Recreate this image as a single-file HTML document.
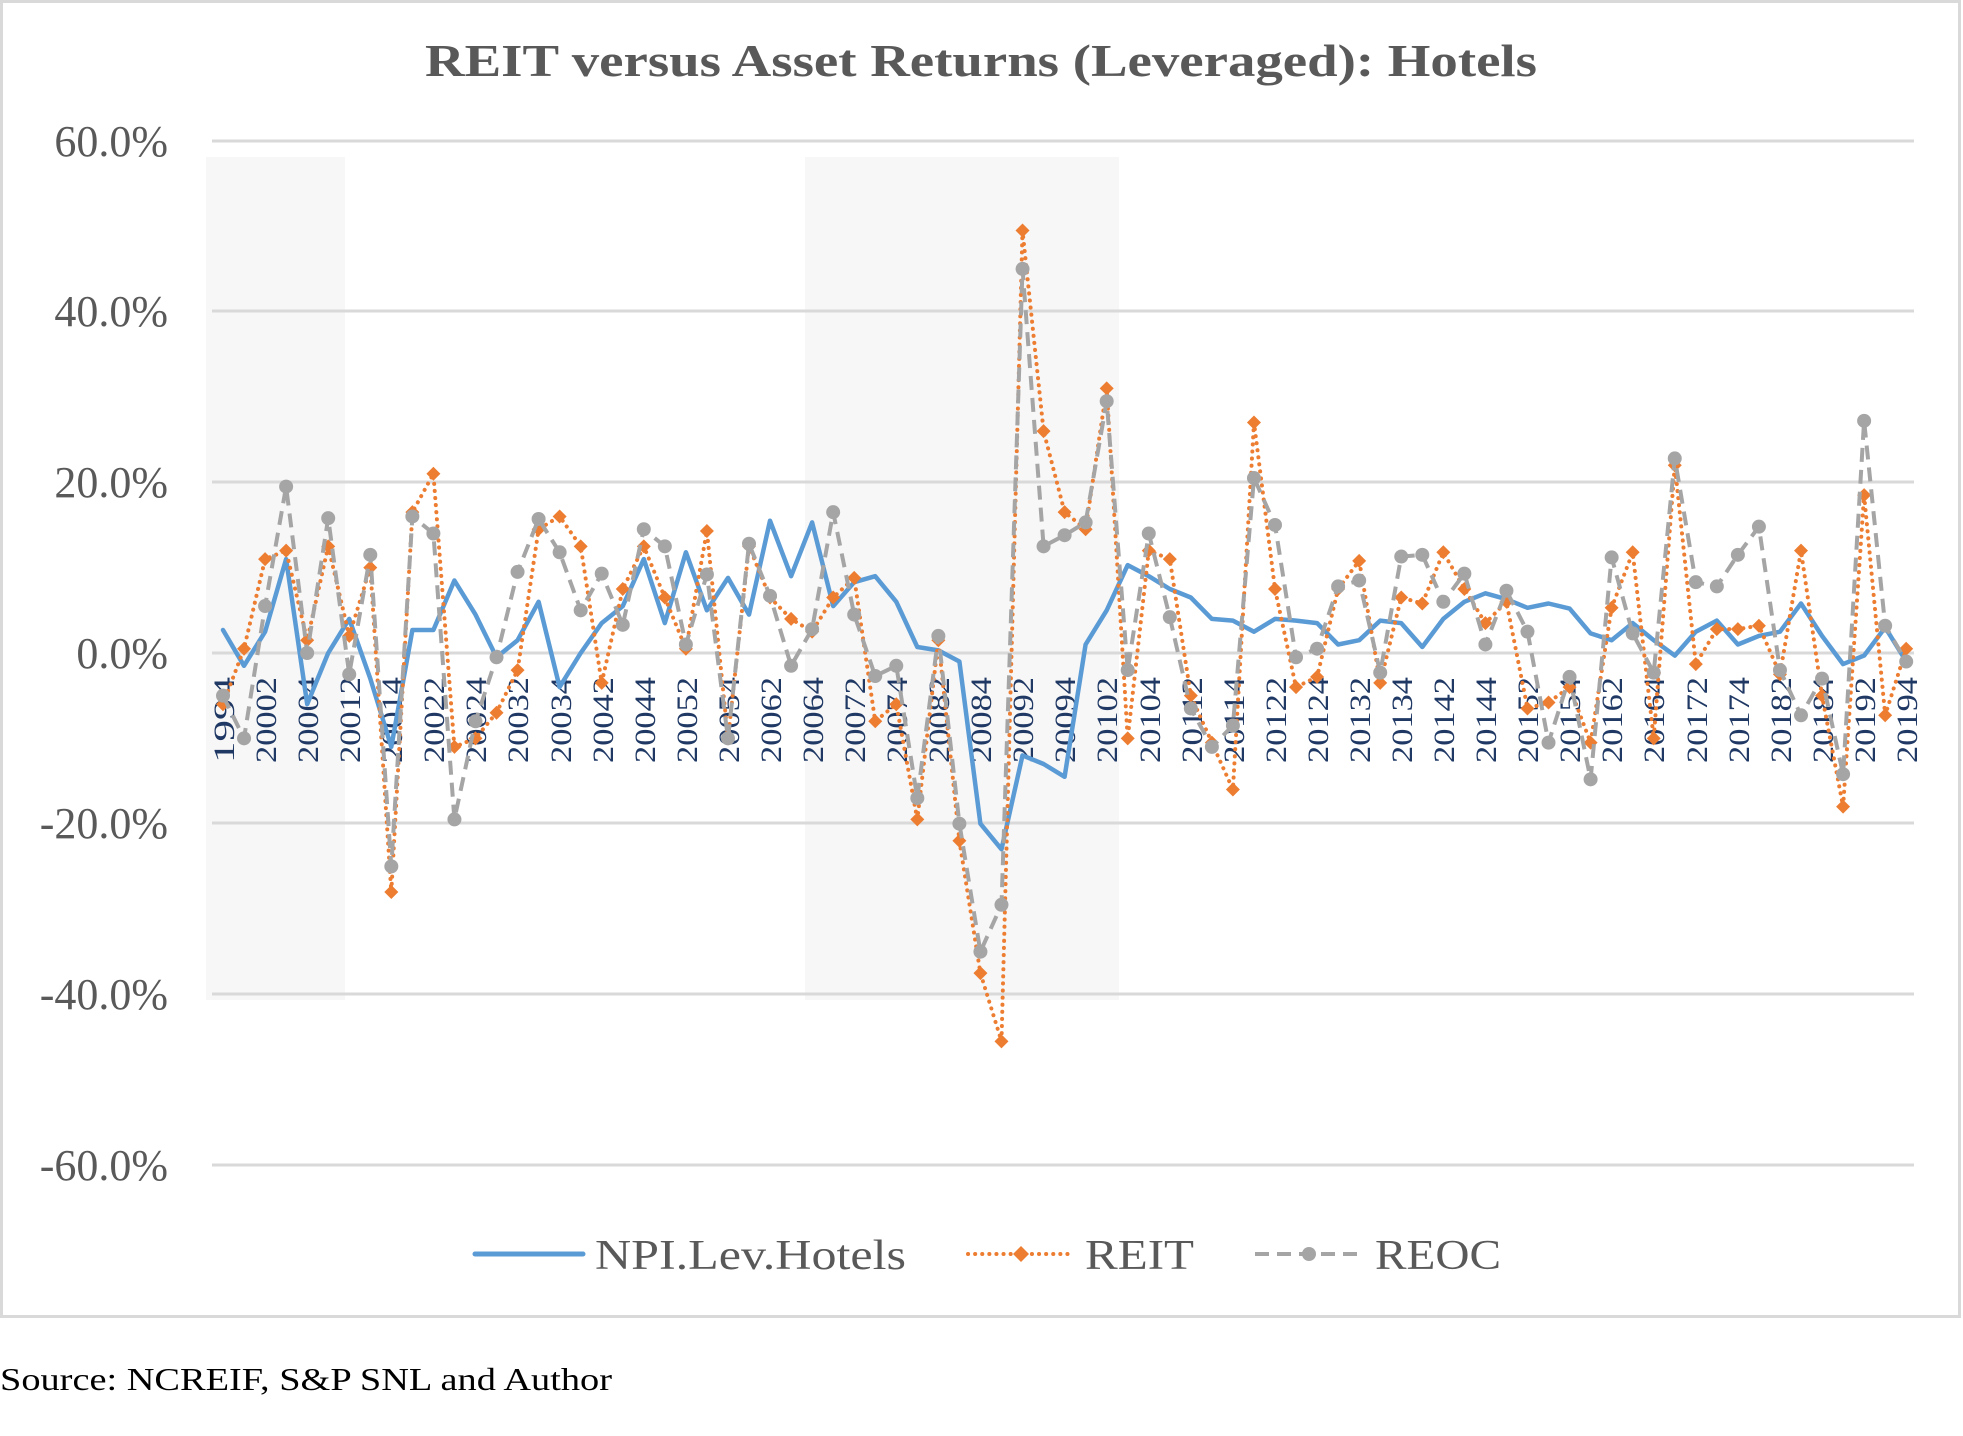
<!DOCTYPE html>
<html><head><meta charset="utf-8"><style>
html,body{margin:0;padding:0;background:#fff;}
svg{display:block;}
</style></head><body>
<svg id="c" width="1963" height="1436" viewBox="0 0 1963 1436" xmlns="http://www.w3.org/2000/svg" font-family="'Liberation Serif', serif">
<rect x="0" y="0" width="1963" height="1436" fill="#fff"/>
<rect x="1.5" y="1.5" width="1958" height="1315" fill="#fff" stroke="#d9d9d9" stroke-width="3"/>
<rect x="206" y="157" width="139" height="843" fill="#f7f7f7"/>
<rect x="805" y="157" width="314" height="843" fill="#f7f7f7"/>
<g stroke="#d9d9d9" stroke-width="3">
<line x1="212" x2="1914" y1="141" y2="141"/>
<line x1="212" x2="1914" y1="311" y2="311"/>
<line x1="212" x2="1914" y1="482" y2="482"/>
<line x1="212" x2="1914" y1="653" y2="653"/>
<line x1="212" x2="1914" y1="823" y2="823"/>
<line x1="212" x2="1914" y1="994" y2="994"/>
<line x1="212" x2="1914" y1="1165" y2="1165"/>
</g>
<text x="981" y="76" text-anchor="middle" font-size="46" font-weight="bold" fill="#595959" textLength="1112" lengthAdjust="spacingAndGlyphs">REIT versus Asset Returns (Leveraged): Hotels</text>
<g font-size="44" fill="#595959" text-anchor="end">
<text x="168" y="156">60.0%</text>
<text x="168" y="326">40.0%</text>
<text x="168" y="497">20.0%</text>
<text x="168" y="668">0.0%</text>
<text x="168" y="838">-20.0%</text>
<text x="168" y="1009">-40.0%</text>
<text x="168" y="1180">-60.0%</text>
</g>
<g id="xl" font-size="30" fill="#1f3864" text-anchor="end">
<text transform="translate(234,677) rotate(-90)" textLength="86" lengthAdjust="spacingAndGlyphs">1994</text>
<text transform="translate(276,677) rotate(-90)" textLength="86" lengthAdjust="spacingAndGlyphs">20002</text>
<text transform="translate(318,677) rotate(-90)" textLength="86" lengthAdjust="spacingAndGlyphs">20004</text>
<text transform="translate(360,677) rotate(-90)" textLength="86" lengthAdjust="spacingAndGlyphs">20012</text>
<text transform="translate(402,677) rotate(-90)" textLength="86" lengthAdjust="spacingAndGlyphs">20014</text>
<text transform="translate(444,677) rotate(-90)" textLength="86" lengthAdjust="spacingAndGlyphs">20022</text>
<text transform="translate(486,677) rotate(-90)" textLength="86" lengthAdjust="spacingAndGlyphs">20024</text>
<text transform="translate(528,677) rotate(-90)" textLength="86" lengthAdjust="spacingAndGlyphs">20032</text>
<text transform="translate(571,677) rotate(-90)" textLength="86" lengthAdjust="spacingAndGlyphs">20034</text>
<text transform="translate(613,677) rotate(-90)" textLength="86" lengthAdjust="spacingAndGlyphs">20042</text>
<text transform="translate(655,677) rotate(-90)" textLength="86" lengthAdjust="spacingAndGlyphs">20044</text>
<text transform="translate(697,677) rotate(-90)" textLength="86" lengthAdjust="spacingAndGlyphs">20052</text>
<text transform="translate(739,677) rotate(-90)" textLength="86" lengthAdjust="spacingAndGlyphs">20054</text>
<text transform="translate(781,677) rotate(-90)" textLength="86" lengthAdjust="spacingAndGlyphs">20062</text>
<text transform="translate(823,677) rotate(-90)" textLength="86" lengthAdjust="spacingAndGlyphs">20064</text>
<text transform="translate(865,677) rotate(-90)" textLength="86" lengthAdjust="spacingAndGlyphs">20072</text>
<text transform="translate(907,677) rotate(-90)" textLength="86" lengthAdjust="spacingAndGlyphs">20074</text>
<text transform="translate(949,677) rotate(-90)" textLength="86" lengthAdjust="spacingAndGlyphs">20082</text>
<text transform="translate(991,677) rotate(-90)" textLength="86" lengthAdjust="spacingAndGlyphs">20084</text>
<text transform="translate(1033,677) rotate(-90)" textLength="86" lengthAdjust="spacingAndGlyphs">20092</text>
<text transform="translate(1075,677) rotate(-90)" textLength="86" lengthAdjust="spacingAndGlyphs">20094</text>
<text transform="translate(1117,677) rotate(-90)" textLength="86" lengthAdjust="spacingAndGlyphs">20102</text>
<text transform="translate(1160,677) rotate(-90)" textLength="86" lengthAdjust="spacingAndGlyphs">20104</text>
<text transform="translate(1202,677) rotate(-90)" textLength="86" lengthAdjust="spacingAndGlyphs">20112</text>
<text transform="translate(1244,677) rotate(-90)" textLength="86" lengthAdjust="spacingAndGlyphs">20114</text>
<text transform="translate(1286,677) rotate(-90)" textLength="86" lengthAdjust="spacingAndGlyphs">20122</text>
<text transform="translate(1328,677) rotate(-90)" textLength="86" lengthAdjust="spacingAndGlyphs">20124</text>
<text transform="translate(1370,677) rotate(-90)" textLength="86" lengthAdjust="spacingAndGlyphs">20132</text>
<text transform="translate(1412,677) rotate(-90)" textLength="86" lengthAdjust="spacingAndGlyphs">20134</text>
<text transform="translate(1454,677) rotate(-90)" textLength="86" lengthAdjust="spacingAndGlyphs">20142</text>
<text transform="translate(1496,677) rotate(-90)" textLength="86" lengthAdjust="spacingAndGlyphs">20144</text>
<text transform="translate(1538,677) rotate(-90)" textLength="86" lengthAdjust="spacingAndGlyphs">20152</text>
<text transform="translate(1580,677) rotate(-90)" textLength="86" lengthAdjust="spacingAndGlyphs">20154</text>
<text transform="translate(1622,677) rotate(-90)" textLength="86" lengthAdjust="spacingAndGlyphs">20162</text>
<text transform="translate(1664,677) rotate(-90)" textLength="86" lengthAdjust="spacingAndGlyphs">20164</text>
<text transform="translate(1707,677) rotate(-90)" textLength="86" lengthAdjust="spacingAndGlyphs">20172</text>
<text transform="translate(1749,677) rotate(-90)" textLength="86" lengthAdjust="spacingAndGlyphs">20174</text>
<text transform="translate(1791,677) rotate(-90)" textLength="86" lengthAdjust="spacingAndGlyphs">20182</text>
<text transform="translate(1833,677) rotate(-90)" textLength="86" lengthAdjust="spacingAndGlyphs">20184</text>
<text transform="translate(1875,677) rotate(-90)" textLength="86" lengthAdjust="spacingAndGlyphs">20192</text>
<text transform="translate(1917,677) rotate(-90)" textLength="86" lengthAdjust="spacingAndGlyphs">20194</text>
</g>
<g id="series"></g>
<!-- legend -->
<line x1="475" x2="583" y1="1254" y2="1254" stroke="#5b9bd5" stroke-width="5" stroke-linecap="round"/>
<text x="595" y="1269" font-size="42" fill="#595959" textLength="311" lengthAdjust="spacingAndGlyphs">NPI.Lev.Hotels</text>
<line x1="968" x2="1074" y1="1254" y2="1254" stroke="#ed7d31" stroke-width="4" stroke-linecap="round" stroke-dasharray="0.1,7"/>
<polygon points="1021,1246 1029,1254 1021,1262 1013,1254" fill="#ed7d31"/>
<text x="1085" y="1269" font-size="42" fill="#595959" textLength="109" lengthAdjust="spacingAndGlyphs">REIT</text>
<line x1="1255" x2="1363" y1="1254" y2="1254" stroke="#a5a5a5" stroke-width="4" stroke-dasharray="14,8"/>
<circle cx="1309" cy="1254" r="7" fill="#a5a5a5"/>
<text x="1375" y="1269" font-size="42" fill="#595959" textLength="126" lengthAdjust="spacingAndGlyphs">REOC</text>
<text x="0" y="1390" font-size="32" fill="#000" textLength="612" lengthAdjust="spacingAndGlyphs">Source: NCREIF, S&amp;P SNL and Author</text>
</svg>
<script>
var npi=[2.7,-1.5,2.5,11,-6,0,4,-3,-11,2.7,2.7,8.5,4.5,-0.5,1.5,6,-4,0,3.5,5.5,11,3.5,11.8,5,8.8,4.5,15.5,9,15.3,5.5,8.3,9,6,0.7,0.3,-1,-20,-23,-12,-13,-14.5,1,5,10.3,9,7.5,6.5,4,3.8,2.5,4,3.8,3.5,1,1.5,3.8,3.5,0.7,4,6,7,6.3,5.3,5.8,5.2,2.3,1.5,3.5,1.5,-0.3,2.5,3.8,1,2,2.5,5.8,2,-1.3,-0.3,3,-1];
var reit=[-6,0.5,11,12,1.5,12.5,2,10,-28,16.5,21,-11,-10,-7,-2,14.5,16,12.5,-3.5,7.5,12.5,6.5,0.5,14.3,-10,12.5,6.5,4,2.5,6.5,8.8,-8,-6,-19.5,1.5,-22,-37.5,-45.5,49.5,26,16.5,14.5,31,-10,12,11,-5,-10.5,-16,27,7.5,-4,-2.8,7.5,10.8,-3.5,6.5,5.8,11.8,7.5,3.5,6,-6.5,-5.8,-4,-10.5,5.3,11.8,-10,22,-1.3,2.8,2.8,3.2,-2.5,12,-5,-18,18.5,-7.3,0.5];
var reoc=[-5,-10,5.5,19.5,0,15.8,-2.5,11.5,-25,16,14,-19.5,-8,-0.5,9.5,15.7,11.8,5,9.3,3.3,14.5,12.5,1,9.2,-10,12.8,6.7,-1.5,2.8,16.5,4.5,-2.7,-1.5,-17,2,-20,-35,-29.5,45,12.5,13.8,15.3,29.5,-2,14,4.2,-6.5,-11,-8.5,20.5,15,-0.5,0.5,7.8,8.5,-2.3,11.3,11.5,6,9.3,1,7.3,2.5,-10.5,-2.8,-14.8,11.2,2.3,-2.3,22.8,8.3,7.8,11.5,14.8,-2,-7.3,-3,-14.2,27.2,3.2,-1];
function X(i){return 223+21.04*i;}
function Y(v){return 653-v*8.535;}
var g=document.getElementById('series'),ns='http://www.w3.org/2000/svg';
function line(d,col,w,dash,cap){var p=document.createElementNS(ns,'polyline');p.setAttribute('points',d.map(function(v,i){return X(i).toFixed(1)+','+Y(v).toFixed(1)}).join(' '));p.setAttribute('fill','none');p.setAttribute('stroke',col);p.setAttribute('stroke-width',w);p.setAttribute('stroke-linejoin','round');if(dash)p.setAttribute('stroke-dasharray',dash);if(cap)p.setAttribute('stroke-linecap',cap);g.appendChild(p);}
line(npi,'#5b9bd5',4.5,null,'round');
line(reit,'#ed7d31',4,'0.1,7','round');
reit.forEach(function(v,i){var x=X(i),y=Y(v),p=document.createElementNS(ns,'polygon');p.setAttribute('points',x+','+(y-7)+' '+(x+7)+','+y+' '+x+','+(y+7)+' '+(x-7)+','+y);p.setAttribute('fill','#ed7d31');g.appendChild(p);});
line(reoc,'#a5a5a5',4,'14,8',null);
reoc.forEach(function(v,i){var c=document.createElementNS(ns,'circle');c.setAttribute('cx',X(i));c.setAttribute('cy',Y(v));c.setAttribute('r',7);c.setAttribute('fill','#a5a5a5');g.appendChild(c);});
</script>
</body></html>
